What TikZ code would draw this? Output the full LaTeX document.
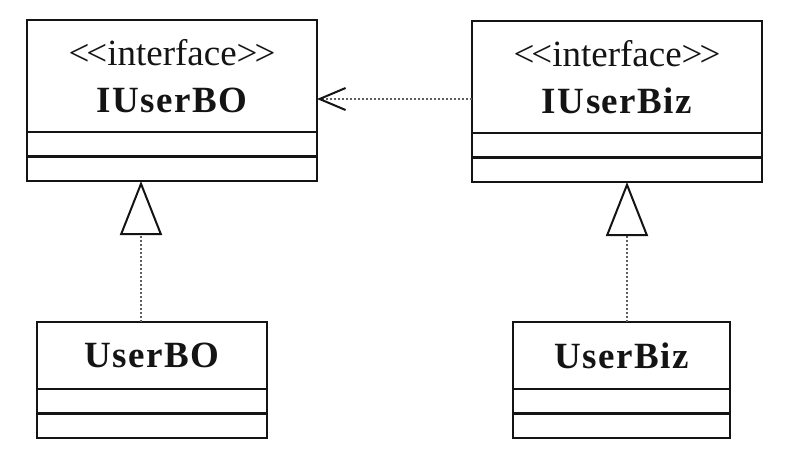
\documentclass[tikz,border=0pt]{standalone}
\usepackage{fontspec}
\setmainfont{Liberation Serif}
\usepackage{tikz}
\usetikzlibrary{arrows.meta, positioning}
\definecolor{umlink}{RGB}{20,20,20}
\definecolor{umldot}{RGB}{95,95,95}
\newcommand{\clname}[1]{{\bfseries\addfontfeature{LetterSpace=4}#1}}
\newcommand{\stereo}[1]{\textless\kern-3pt\textless#1\textgreater\kern-3pt\textgreater}
\tikzset{
  classhead/.style={rectangle, draw=umlink, line width=2.2pt, outer sep=0pt,
    inner sep=0pt, align=center, text=umlink, font=\fontsize{37}{47}\selectfont},
  classpart/.style={rectangle, draw=umlink, line width=2.2pt, outer sep=0pt,
    inner sep=0pt, minimum height=24.5pt},
  realize/.style={line width=2pt, color=umldot, dotted,
    -{Triangle[open, length=54pt, width=42pt, color=umlink, line width=2pt]}},
  depend/.style={line width=2pt, color=umldot, dotted,
    -{Straight Barb[length=26pt, width=22pt, color=umlink, line width=2pt]}}
}

\begin{document}
\begin{tikzpicture}[x=1pt, y=-1pt]
  \useasboundingbox (0,0) rectangle (789,467);

  \node[classhead, minimum width=290pt, minimum height=112pt] (ibo) at (172,76) {\stereo{interface}\\\clname{IUserBO}};
  \node[classpart, minimum width=290pt, below=0pt of ibo] (ibo1) {};
  \node[classpart, minimum width=290pt, below=0pt of ibo1] (ibo2) {};

  \node[classhead, minimum width=290pt, minimum height=112pt] (ibz) at (617,77) {\stereo{interface}\\\clname{IUserBiz}};
  \node[classpart, minimum width=290pt, below=0pt of ibz] (ibz1) {};
  \node[classpart, minimum width=290pt, below=0pt of ibz1] (ibz2) {};

  \node[classhead, minimum width=230pt, minimum height=67pt] (ubo) at (152,355.5) {\clname{UserBO}};
  \node[classpart, minimum width=230pt, below=0pt of ubo] (ubo1) {};
  \node[classpart, minimum width=230pt, below=0pt of ubo1] (ubo2) {};

  \node[classhead, minimum width=217pt, minimum height=67pt] (ubz) at (621.5,355.5) {\clname{UserBiz}};
  \node[classpart, minimum width=217pt, below=0pt of ubz] (ubz1) {};
  \node[classpart, minimum width=217pt, below=0pt of ubz1] (ubz2) {};

  \coordinate (boup) at ([xshift=-11pt]ubo.north);
  \coordinate (bzup) at ([xshift=5.5pt]ubz.north);
  \coordinate (dep) at ([yshift=-22pt]ibz.west);

  \draw[realize] (boup) -- (boup |- ibo2.south);
  \draw[realize] (bzup) -- (bzup |- ibz2.south);
  \draw[depend] (dep) -- (dep -| ibo.east);
\end{tikzpicture}
\end{document}
